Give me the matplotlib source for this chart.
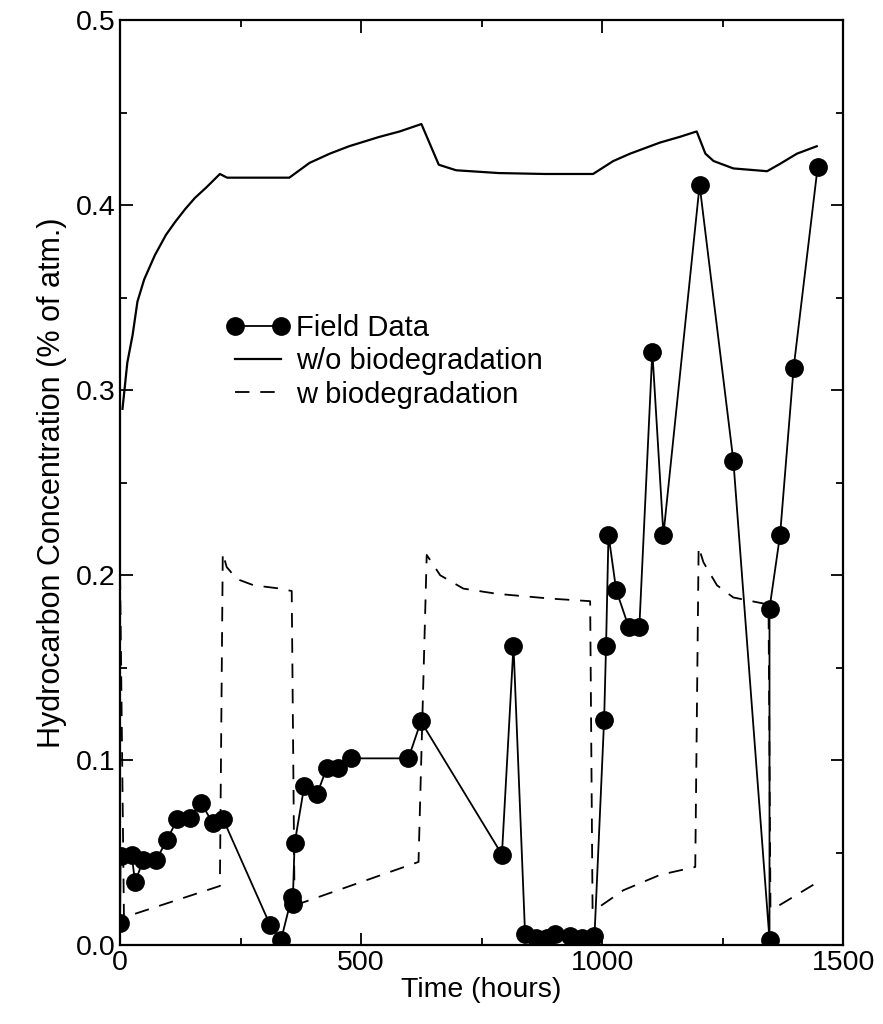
import matplotlib.pyplot as plt
from matplotlib.ticker import MultipleLocator

plt.rcParams['font.family'] = ['Liberation Sans', 'DejaVu Sans']

# Field data
field_t = [0, 1, 24, 31, 48, 75, 97, 119, 144, 168, 192, 214, 311, 334, 356, 358,
           362, 382, 409, 429, 453, 479, 598, 624, 792, 816, 840, 863, 885, 902,
           934, 958, 984, 1004, 1008, 1013, 1029, 1055, 1077, 1104, 1127, 1202,
           1272, 1347, 1347, 1369, 1397, 1447]
field_c = [0.012, 0.048, 0.049, 0.034, 0.046, 0.046, 0.057, 0.068, 0.069, 0.077,
           0.066, 0.068, 0.011, 0.003, 0.026, 0.022, 0.055, 0.086, 0.082, 0.096,
           0.096, 0.101, 0.101, 0.121, 0.049, 0.162, 0.006, 0.004, 0.004, 0.006,
           0.005, 0.004, 0.005, 0.122, 0.162, 0.222, 0.192, 0.172, 0.172, 0.321,
           0.222, 0.411, 0.262, 0.003, 0.182, 0.222, 0.312, 0.421]

# model w/o biodegradation
nobio_t = [5, 15, 26, 36, 50, 72, 95, 114, 135, 155, 180, 207, 222, 351, 393, 435,
           475, 537, 580, 625, 661, 697, 785, 880, 981, 1023, 1058, 1120, 1160,
           1196, 1214, 1231, 1272, 1342, 1369, 1404, 1445]
nobio_c = [0.29, 0.315, 0.33, 0.348, 0.36, 0.373, 0.384, 0.391, 0.398, 0.404, 0.41,
           0.417, 0.415, 0.415, 0.423, 0.428, 0.432, 0.437, 0.44, 0.444, 0.422,
           0.419, 0.4175, 0.417, 0.417, 0.424, 0.428, 0.434, 0.437, 0.440, 0.428,
           0.424, 0.420, 0.4185, 0.4225, 0.428, 0.432]

# model w biodegradation
bio_t = [0, 8, 207, 213, 221, 242, 277, 332, 356, 362, 373, 619, 636, 664, 712,
         781, 892, 975, 980, 989, 1044, 1120, 1193, 1200, 1210, 1238, 1272, 1335,
         1345, 1349, 1362, 1442]
bio_c = [0.2, 0.015, 0.032, 0.212, 0.2045, 0.198, 0.1946, 0.1928, 0.1915, 0.018,
         0.0225, 0.045, 0.211, 0.2, 0.1928, 0.19, 0.1874, 0.186, 0.019, 0.0198,
         0.0297, 0.038, 0.0423, 0.2153, 0.207, 0.1946, 0.188, 0.1847, 0.183,
         0.0198, 0.0207, 0.0333]

fig = plt.figure(figsize=(8.83, 10.24), dpi=100)
ax = fig.add_axes([0.136, 0.077, 0.819, 0.903])

ax.plot(field_t, field_c, color='black', lw=1.3, marker='o', markersize=12.5,
        label='Field Data')
ax.plot(nobio_t, nobio_c, color='black', lw=1.6, label='w/o biodegradation')
ax.plot(bio_t, bio_c, color='black', lw=1.3, dashes=(8, 6), label='w biodegradation')

ax.set_xlim(0, 1500)
ax.set_ylim(0, 0.5)
ax.xaxis.set_major_locator(MultipleLocator(500))
ax.xaxis.set_minor_locator(MultipleLocator(250))
ax.yaxis.set_major_locator(MultipleLocator(0.1))
ax.yaxis.set_minor_locator(MultipleLocator(0.05))
ax.yaxis.set_major_formatter(plt.FormatStrFormatter('%.1f'))
ax.tick_params(which='both', direction='in', top=True, right=True, labelsize=20.5,
               width=1.3)
ax.tick_params(which='major', length=9)
ax.tick_params(which='minor', length=5)
for s in ax.spines.values():
    s.set_linewidth(1.6)

ax.set_xlabel('Time (hours)', fontsize=20.5, labelpad=1)
ax.set_ylabel('Hydrocarbon Concentration (% of atm.)', fontsize=22, labelpad=6)

ax.legend(loc='upper left', bbox_to_anchor=(0.13, 0.695), borderaxespad=0,
          frameon=False, fontsize=21, handlelength=2.2, numpoints=2,
          labelspacing=0.18, handletextpad=0.2)

fig.savefig('out.png', dpi=100)
